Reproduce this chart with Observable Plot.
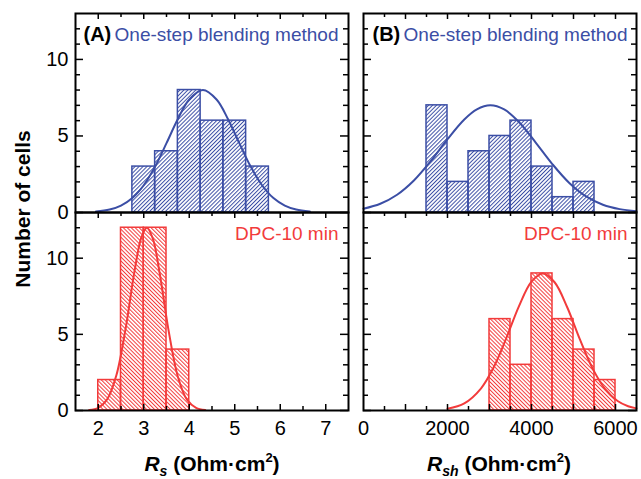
<!DOCTYPE html>
<html><head><meta charset="utf-8">
<script src="https://cdn.jsdelivr.net/npm/d3@7"></script>
<script src="https://cdn.jsdelivr.net/npm/@observablehq/plot@0.6"></script>
<style>
body{margin:0;background:#fff;}
#chart{position:relative;width:641px;height:479px;font-family:"Liberation Sans",Arial,sans-serif;}
#chart svg{position:absolute;overflow:visible;}
</style></head><body>
<div id="chart"></div>
<script>
// ---- data ----
const rsOneStepLo = [2.75, 3.25, 3.75, 4.25, 4.75, 5.25];
const rsOneStepHi = [3.25, 3.75, 4.25, 4.75, 5.25, 5.75];
const rsOneStepCount = [3, 4, 8, 6, 6, 3];
const rsDpcLo = [2.0, 2.5, 3.0, 3.5];
const rsDpcHi = [2.5, 3.0, 3.5, 4.0];
const rsDpcCount = [2, 12, 12, 4];
const rshOneStepLo = [1500, 2000, 2500, 3000, 3500, 4000, 4500, 5000];
const rshOneStepHi = [2000, 2500, 3000, 3500, 4000, 4500, 5000, 5500];
const rshOneStepCount = [7, 2, 4, 5, 6, 3, 1, 2];
const rshDpcLo = [3000, 3500, 4000, 4500, 5000, 5500];
const rshDpcHi = [3500, 4000, 4500, 5000, 5500, 6000];
const rshDpcCount = [6, 3, 9, 6, 4, 2];

// fitted curves
const rsOneStepFitX = [1.95, 2.25, 2.5, 2.75, 3.0, 3.25, 3.5, 3.75, 4.0, 4.3, 4.6, 4.85, 5.1, 5.35, 5.6, 5.85, 6.1, 6.35, 6.65];
const rsOneStepFitY = [0.06, 0.19, 0.45, 0.94, 1.78, 3.00, 4.53, 6.11, 7.38, 8, 7.38, 6.11, 4.53, 3.00, 1.78, 0.94, 0.45, 0.19, 0.06];
const rsDpcFitX = [1.8, 2.0, 2.2, 2.4, 2.6, 2.8, 2.95, 3.07, 3.2, 3.35, 3.55, 3.75, 3.95, 4.15, 4.35];
const rsDpcFitY = [0.03, 0.18, 0.76, 2.33, 5.35, 9.20, 11.38, 12, 11.28, 9.01, 5.18, 2.22, 0.71, 0.17, 0.03];
const rshOneStepFitX = [0, 400, 800, 1200, 1600, 2000, 2400, 2700, 3020, 3350, 3700, 4100, 4500, 4900, 5300, 5700, 6100, 6500];
const rshOneStepFitY = [0.25, 0.57, 1.16, 2.09, 3.35, 4.79, 6.08, 6.74, 7, 6.73, 5.91, 4.57, 3.15, 1.93, 1.05, 0.51, 0.22, 0.08];
const rshDpcFitX = [2000, 2400, 2800, 3100, 3400, 3700, 4000, 4270, 4550, 4850, 5150, 5450, 5750, 6050, 6300, 6500];
const rshDpcFitY = [0.12, 0.47, 1.46, 2.84, 4.75, 6.84, 8.46, 9, 8.42, 6.78, 4.68, 2.78, 1.42, 0.62, 0.28, 0.14];

// ticks
const countTicks = [0, 5, 10];
const countMinorTicks = [1, 2, 3, 4, 6, 7, 8, 9, 11, 12];
const rsTicks = [2, 3, 4, 5, 6, 7];
const rsMinorTicks = [2.5, 3.5, 4.5, 5.5, 6.5];
const rshTicks = [0, 2000, 4000, 6000];
const rshMajorTicks = [1000, 2000, 3000, 4000, 5000, 6000];
const rshMinorTicks = [500, 1500, 2500, 3500, 4500, 5500];

const seriesNames = ["One-step blending method", "DPC-10 min"];
const panelTags = ["(A)", "(B)"];

const BLUE = "#3b4ea5";
const RED = "#f23b3b";
const FONT = "Liberation Sans, Arial, sans-serif";

function hatch(id, color, angle, gap) {
  return () => {
    const defs = d3.create("svg:defs");
    const p = defs.append("pattern").attr("id", id).attr("patternUnits", "userSpaceOnUse")
      .attr("width", gap).attr("height", gap).attr("patternTransform", `rotate(${angle})`);
    p.append("rect").attr("x", 0).attr("y", 0).attr("width", 1).attr("height", gap).attr("fill", color);
    return defs.node();
  };
}

function panel(o) {
  const pw = o.w - o.ml - o.mr, ph = o.h - o.mt - o.mb;
  const bars = o.lo.map((d, i) => ({lo: d, hi: o.hi[i], n: o.count[i]}));
  const fit = o.fitX.map((d, i) => ({x: d, y: o.fitY[i]}));
  const tk = {stroke: "black", strokeWidth: 1.5};
  const marks = [
    hatch(o.pid, o.color, o.angle, 2.8),
    Plot.rectY(bars, {x1: "lo", x2: "hi", y: "n", fill: `url(#${o.pid})`, stroke: o.color, strokeWidth: 1.5}),
    Plot.line(fit, {x: "x", y: "y", stroke: o.color, strokeWidth: 2, curve: "catmull-rom"}),
    // y ticks, left and right sides (inward)
    Plot.tickY(countTicks, {y: d => d, ...tk, insetRight: pw - 8}),
    Plot.tickY(countMinorTicks, {y: d => d, ...tk, insetRight: pw - 5}),
    Plot.tickY(countTicks, {y: d => d, ...tk, insetLeft: pw - 8}),
    Plot.tickY(countMinorTicks, {y: d => d, ...tk, insetLeft: pw - 5}),
    // x ticks at top edge (pointing down)
    Plot.tickX(o.xMajor, {x: d => d, ...tk, insetBottom: ph - 6}),
    Plot.tickX(o.xMinor, {x: d => d, ...tk, insetBottom: ph - 4}),
    Plot.frame({stroke: "black", strokeWidth: 2})
  ];
  if (o.bottomTicks) {
    marks.push(Plot.tickX(o.xMajor, {x: d => d, ...tk, insetTop: ph - 6}));
    marks.push(Plot.tickX(o.xMinor, {x: d => d, ...tk, insetTop: ph - 4}));
  }
  if (o.yLabels) {
    marks.push(Plot.axisY({ticks: countTicks, tickSize: 0, tickPadding: 7, fontSize: 20, label: null, tickFormat: d => String(d)}));
  }
  if (o.xLabels) {
    marks.push(Plot.axisX({ticks: o.xLabels, tickSize: 0, tickPadding: 10, fontSize: 20, label: null, tickFormat: d => String(d)}));
  }
  if (o.tag) {
    marks.push(Plot.text([o.tag], {text: d => d, frameAnchor: "top-left", dx: o.tagDx, dy: 21, textAnchor: "start", lineAnchor: "middle", fontWeight: "bold", fontSize: 20, fill: "black"}));
  }
  marks.push(Plot.text([o.name], {text: d => d, frameAnchor: "top-right", dx: o.nameDx, dy: 21, textAnchor: "end", lineAnchor: "middle", fontSize: 19, fill: o.color}));
  const svg = Plot.plot({
    width: o.w, height: o.h,
    marginLeft: o.ml, marginRight: o.mr, marginTop: o.mt, marginBottom: o.mb,
    style: {fontFamily: FONT, fontSize: "20px", color: "black", background: "transparent", overflow: "visible"},
    x: {domain: o.xDomain, axis: null},
    y: {domain: [0, 13], axis: null},
    marks
  });
  svg.style.left = o.left + "px";
  svg.style.top = o.top + "px";
  return svg;
}

const chart = document.getElementById("chart");
const L = {left: 0, w: 355, ml: 75, mr: 7, xDomain: [1.5, 7.5], xMajor: rsTicks, xMinor: rsMinorTicks, yLabels: true, tagDx: 8, nameDx: -10};
const R = {left: 355, w: 286, ml: 8, mr: 5, xDomain: [0, 6500], xMajor: rshMajorTicks, xMinor: rshMinorTicks, yLabels: false, tagDx: 9, nameDx: -9};
const T = {top: 0, h: 212, mt: 13, mb: 0};
const B = {top: 212, h: 267, mt: 0, mb: 69};

chart.appendChild(panel({...L, ...T, lo: rsOneStepLo, hi: rsOneStepHi, count: rsOneStepCount, fitX: rsOneStepFitX, fitY: rsOneStepFitY, color: BLUE, pid: "hA1", angle: 45, tag: panelTags[0], name: seriesNames[0]}));
chart.appendChild(panel({...R, ...T, lo: rshOneStepLo, hi: rshOneStepHi, count: rshOneStepCount, fitX: rshOneStepFitX, fitY: rshOneStepFitY, color: BLUE, pid: "hB1", angle: 45, tag: panelTags[1], name: seriesNames[0]}));
chart.appendChild(panel({...L, ...B, lo: rsDpcLo, hi: rsDpcHi, count: rsDpcCount, fitX: rsDpcFitX, fitY: rsDpcFitY, color: RED, pid: "hA2", angle: -45, name: seriesNames[1], bottomTicks: true, xLabels: rsTicks}));
chart.appendChild(panel({...R, ...B, lo: rshDpcLo, hi: rshDpcHi, count: rshDpcCount, fitX: rshDpcFitX, fitY: rshDpcFitY, color: RED, pid: "hB2", angle: -45, name: seriesNames[1], bottomTicks: true, xLabels: rshTicks}));

// axis titles overlay
const ov = d3.select(chart).append("svg").attr("width", 641).attr("height", 479)
  .style("left", "0px").style("top", "0px").style("pointer-events", "none")
  .attr("font-family", FONT).attr("font-weight", "bold").attr("fill", "black");
ov.append("text").attr("transform", "translate(30,209) rotate(-90)").attr("text-anchor", "middle")
  .attr("font-size", 21).text("Number of cells");
function xTitle(cx, sub) {
  const t = ov.append("text").attr("x", cx).attr("y", 471).attr("text-anchor", "middle").attr("font-size", 21);
  t.append("tspan").attr("font-style", "italic").text("R");
  t.append("tspan").attr("font-style", "italic").attr("font-size", 14).attr("dy", 5).text(sub);
  t.append("tspan").attr("dy", -5).text(" (Ohm\u00B7cm");
  t.append("tspan").attr("font-size", 13).attr("dy", -9).text("2");
  t.append("tspan").attr("dy", 9).text(")");
}
xTitle(212, "s");
xTitle(499, "sh");
</script>
</body></html>
